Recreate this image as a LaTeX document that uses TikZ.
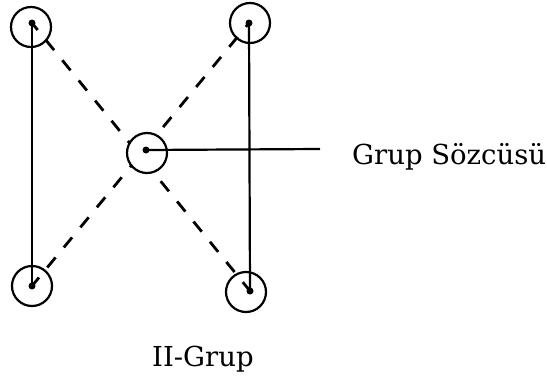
\documentclass[tikz,border=0pt]{standalone}
\usepackage{fontspec}
\setmainfont{DejaVu Serif}
\begin{document}
\begin{tikzpicture}[x=1pt,y=-1pt,
  ring/.style={circle,draw,line width=2.2pt,minimum size=40pt,inner sep=0pt},
  ctrring/.style={ring,fill=white},
  dotnode/.style={circle,fill,inner sep=0pt,minimum size=7pt},
  link/.style={line width=2.2pt},
  dlink/.style={line width=2.8pt,dash pattern=on 13pt off 13pt},
  lbl/.style={font=\fontsize{27.5}{32}\selectfont,inner sep=0pt,anchor=base west}]
\useasboundingbox (0,0) rectangle (547,378);
% dots
\node[dotnode] (tld) at (32,23) {};
\node[dotnode] (trd) at (249,23) {};
\node[dotnode] (bld) at (32,286) {};
\node[dotnode] (brd) at (250,291) {};
% dashed diagonals
\draw[dlink,dash phase=4pt] (tld.center) -- (brd.center);
\draw[dlink,dash phase=2pt] (bld.center) -- (trd.center);
% centre circle
\node[ctrring] (c) at (147,153) {};
\node[dotnode] (cd) at (146,150) {};
% outer circles
\node[ring] (tl) at (31,27) {};
\node[ring] (tr) at (250,23) {};
\node[ring] (bl) at (32,286) {};
\node[ring] (br) at (246,292) {};
% solid lines
\draw[link] (tld.center) -- (bld.center);
\draw[link] (trd.center) -- (brd.center);
\coordinate (hend) at (320,149);
\draw[link] (cd.center) -- (hend);
% labels
\node[lbl] (gs) at (352,164) {Grup Sözcüsü};
\node[lbl] (ig) at (152,366) {II-Grup};
\end{tikzpicture}
\end{document}
